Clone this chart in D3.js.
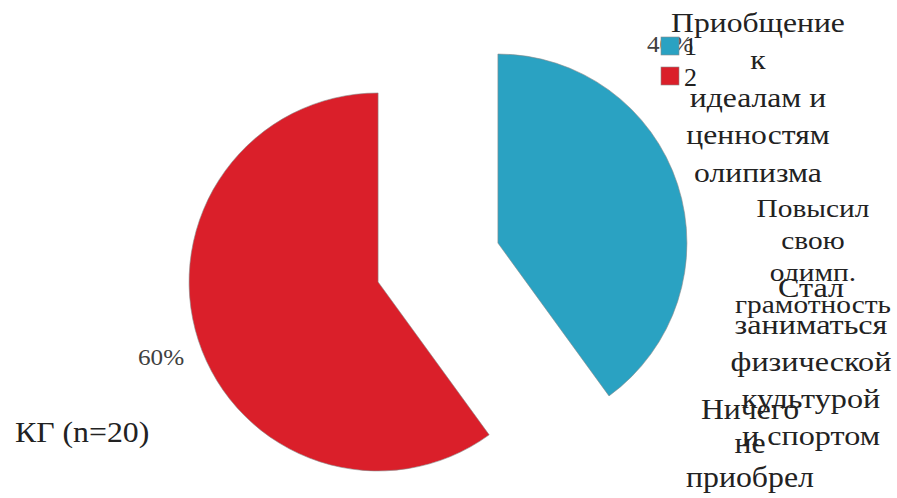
<!DOCTYPE html>
<html><head><meta charset="utf-8">
<script src="https://cdn.jsdelivr.net/npm/d3@7"></script>
<style>body{margin:0;background:#fff}svg{display:block}</style>
</head><body>
<svg id="c" width="897" height="498"></svg>
<script>
const seriesKeys = ["1", "2"];
const seriesValues = [40, 60];
const seriesColors = ["#2aa2c2", "#da1f2a"];
const percentLabels = ["40%", "60%"];
const groupTitle = "КГ (n=20)";
const categoryLines = [
  ["Приобщение", "к", "идеалам и", "ценностям", "олипизма"],
  ["Повысил", "свою", "олимп.", "грамотность"],
  ["Стал", "заниматься", "физической", "культурой", "и спортом"],
  ["Ничего", "не", "приобрел"]
];

const FONT = "Liberation Serif";
const svg = d3.select("#c").attr("font-family", FONT);
const cx = 438, cy = 262.5, R = 189, explode = 63;

const pie = d3.pie().sort(null).value(d => d)(seriesValues);
const arc = d3.arc().innerRadius(0).outerRadius(R);

svg.append("g").attr("transform", `translate(${cx},${cy})`)
  .selectAll("path").data(pie).join("path")
  .attr("d", arc)
  .attr("transform", d => {
    const a = (d.startAngle + d.endAngle) / 2;
    return `translate(${Math.sin(a) * explode},${-Math.cos(a) * explode})`;
  })
  .attr("fill", (d, i) => seriesColors[i])
  .attr("stroke", "#8a8a8a").attr("stroke-width", 0.6);

const stretch = (x, sx) => `translate(${x},0) scale(${sx},1) translate(${-x},0)`;

const pctPos = [[647, 52], [138, 365]];
svg.selectAll("text.pct").data(percentLabels).join("text")
  .attr("class", "pct").style("font-family", FONT)
  .attr("x", (d, i) => pctPos[i][0]).attr("y", (d, i) => pctPos[i][1])
  .attr("transform", (d, i) => stretch(pctPos[i][0], 1.05))
  .attr("font-size", 24).attr("fill", "#404040")
  .text(d => d);

const leg = svg.append("g");
seriesKeys.forEach((k, i) => {
  leg.append("rect").attr("x", 661).attr("y", 37 + i * 30).attr("width", 18).attr("height", 18)
    .attr("fill", seriesColors[i]).attr("stroke", "#8a8a8a").attr("stroke-width", 0.6);
  leg.append("text").style("font-family", FONT).attr("x", 684).attr("y", 55 + i * 31)
    .attr("font-size", 26).attr("fill", "#222").text(k);
});

const catLayout = [
  {x: 758, y0: 32, dy: 37.5, fs: 28, sx: 1.13},
  {x: 813, y0: 217, dy: 32, fs: 26, sx: 1.13},
  {x: 811, y0: 297, dy: 37, fs: 28, sx: 1.15},
  {x: 750, y0: 419, dy: 34, fs: 30, sx: 1.06}
];
categoryLines.forEach((lines, ci) => {
  const L = catLayout[ci];
  const t = svg.append("text").style("font-family", FONT).attr("text-anchor", "middle")
    .attr("transform", stretch(L.x, L.sx))
    .attr("font-size", L.fs).attr("fill", "#222");
  lines.forEach((ln, j) => {
    t.append("tspan").attr("x", L.x).attr("y", L.y0 + j * L.dy).text(ln);
  });
});

svg.append("text").style("font-family", FONT).attr("x", 15).attr("y", 442)
  .attr("transform", stretch(15, 1.06))
  .attr("font-size", 30).attr("fill", "#222").text(groupTitle);
</script>
</body></html>
